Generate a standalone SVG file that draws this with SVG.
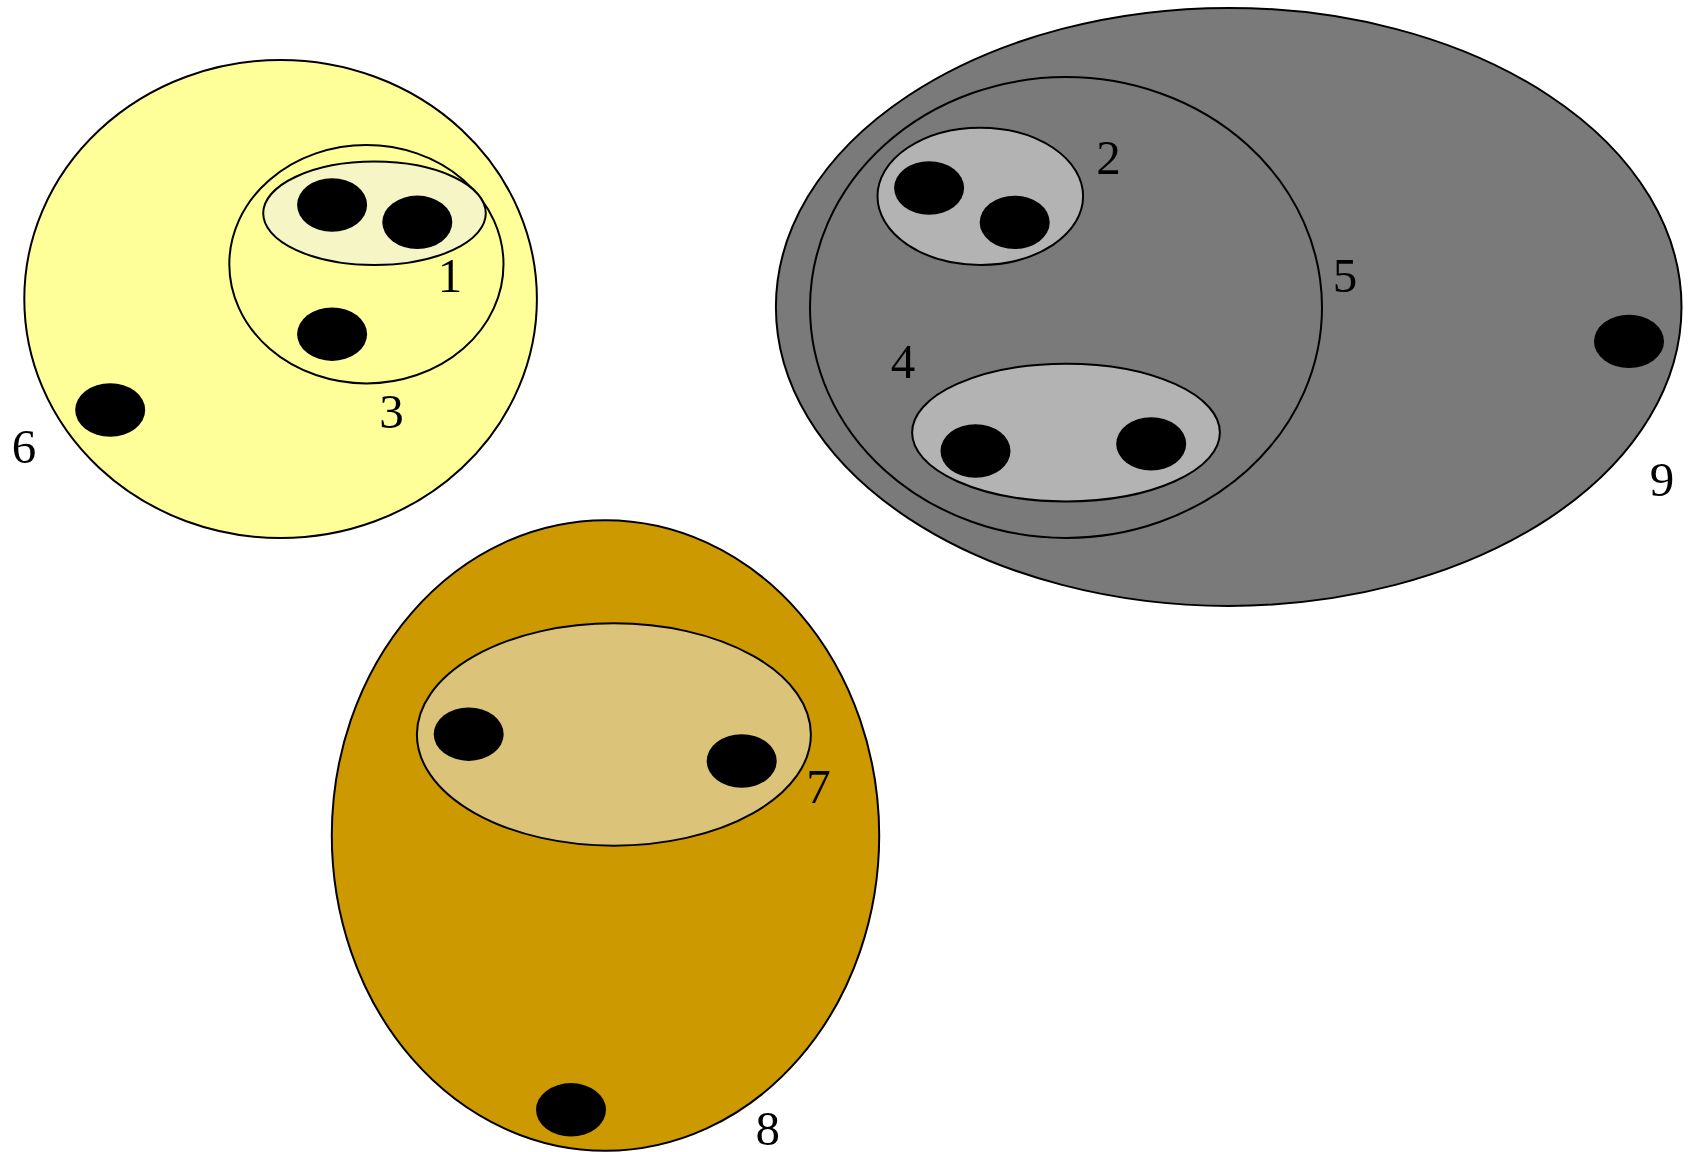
<svg xmlns="http://www.w3.org/2000/svg" width="1691" height="1152" viewBox="0 0 1691 1152">
<style>
.o{stroke:#000;stroke-width:2}
.d{fill:#000}
.t{font-family:"Liberation Serif","Times New Roman",serif;font-size:49px;fill:#000;text-anchor:middle}
</style>
<rect width="1691" height="1152" fill="#fff"/>
<g id="node6">
<ellipse class="o" cx="280.6" cy="299" rx="256.3" ry="239" fill="#ffff99"/>
<ellipse class="d" cx="110.2" cy="410" rx="35" ry="26.7"/>
<text class="t" x="24" y="463">6</text>
</g>
<g id="node3">
<ellipse class="o" cx="366.4" cy="264.2" rx="137.1" ry="119.2" fill="none"/>
<ellipse class="d" cx="332.1" cy="334.2" rx="35" ry="26.7"/>
<text class="t" x="391.6" y="428">3</text>
</g>
<g id="node1">
<ellipse class="o" cx="374.5" cy="213.3" rx="111.3" ry="51.7" fill="#f5f5c5"/>
<ellipse class="d" cx="332.1" cy="205" rx="35" ry="26.7"/>
<ellipse class="d" cx="417.3" cy="222.3" rx="35" ry="26.7"/>
<text class="t" x="450" y="291.5">1</text>
</g>
<g id="node9">
<ellipse class="o" cx="1228.7" cy="306.9" rx="452.8" ry="299" fill="#7a7a7a"/>
<ellipse class="d" cx="1629" cy="341.4" rx="35" ry="26.7"/>
<text class="t" x="1662" y="496">9</text>
</g>
<g id="node5">
<ellipse class="o" cx="1066" cy="307.5" rx="256" ry="230.4" fill="none"/>
<text class="t" x="1345" y="291.8">5</text>
</g>
<g id="node2">
<ellipse class="o" cx="980.3" cy="196.3" rx="102.8" ry="68.6" fill="#b3b3b3"/>
<ellipse class="d" cx="929.1" cy="188" rx="35" ry="26.7"/>
<ellipse class="d" cx="1014.7" cy="222.4" rx="35" ry="26.7"/>
<text class="t" x="1108.4" y="173.5">2</text>
</g>
<g id="node4">
<ellipse class="o" cx="1066" cy="432.6" rx="153.9" ry="68.8" fill="#b3b3b3"/>
<ellipse class="d" cx="975.5" cy="451" rx="35" ry="26.7"/>
<ellipse class="d" cx="1151.2" cy="443.9" rx="35" ry="26.7"/>
<text class="t" x="903" y="377.6">4</text>
</g>
<g id="node8">
<ellipse class="o" cx="605.5" cy="835.5" rx="273.7" ry="315.3" fill="#cc9900"/>
<ellipse class="d" cx="571" cy="1109.8" rx="35" ry="26.7"/>
<text class="t" x="767.8" y="1144.6">8</text>
</g>
<g id="node7">
<ellipse class="o" cx="613.9" cy="734.5" rx="197" ry="111.2" fill="#dbc37a"/>
<ellipse class="d" cx="468.7" cy="734.2" rx="35" ry="26.7"/>
<ellipse class="d" cx="741.7" cy="761" rx="35" ry="26.7"/>
<text class="t" x="818.6" y="802.7">7</text>
</g>
<g id="connectors"/>
</svg>
